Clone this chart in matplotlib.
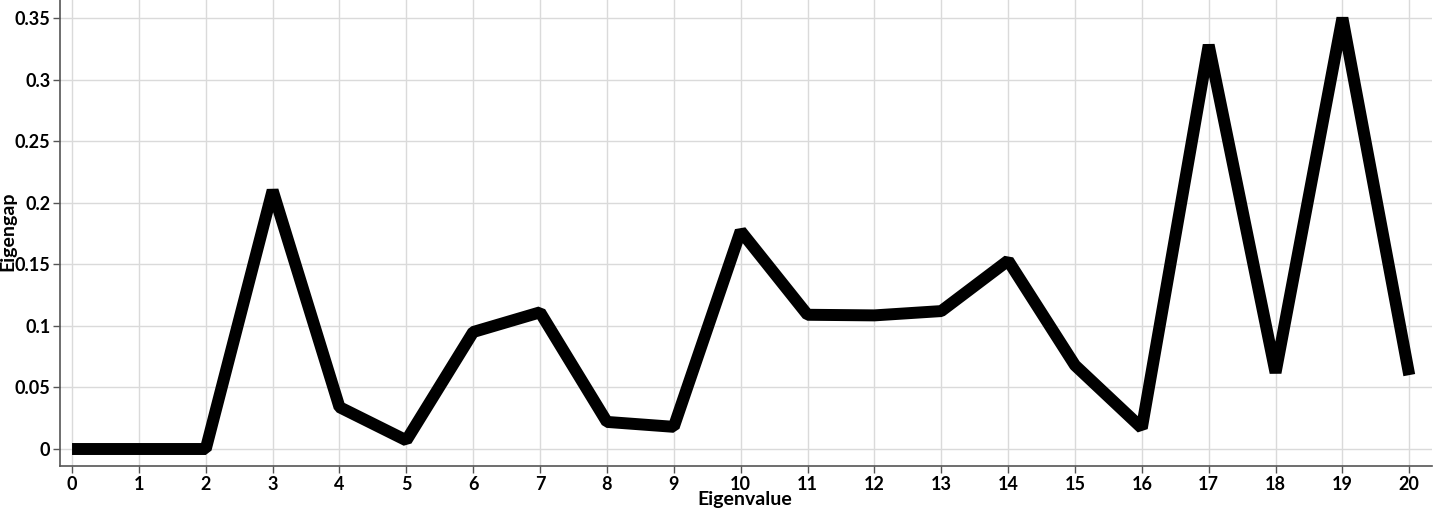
import matplotlib
matplotlib.use('Agg')
import matplotlib.pyplot as plt
from matplotlib.ticker import FuncFormatter

# data
eigenvalue = list(range(21))
eigengap = [0.0, 0.0, 0.0, 0.210, 0.034, 0.007, 0.095, 0.111, 0.022, 0.018,
            0.177, 0.109, 0.1085, 0.112, 0.153, 0.068, 0.017, 0.328, 0.062,
            0.350, 0.060]
x_ticks = list(range(21))
y_ticks = [0, 0.05, 0.1, 0.15, 0.2, 0.25, 0.3, 0.35]

plt.rcParams['font.family'] = ['Lato', 'DejaVu Sans']

W, H = 1433, 508
fig = plt.figure(figsize=(W / 100, H / 100), dpi=100)
ax = fig.add_axes([60 / W, 42 / H, 1372 / W, 466 / H])

ax.plot(eigenvalue, eigengap, color='black', linewidth=8.6,
        solid_joinstyle='bevel', solid_capstyle='butt', zorder=3)

ax.set_xlim(-0.18, 20.34)
ax.set_ylim(-0.0138, 0.3646)
ax.set_xticks(x_ticks)
ax.set_yticks(y_ticks)
ax.yaxis.set_major_formatter(FuncFormatter(lambda v, p: f'{v:g}'))

ax.grid(True, color='#dadada', linewidth=1.0)
ax.set_axisbelow(True)

for side in ['top', 'right']:
    ax.spines[side].set_visible(False)
for side in ['left', 'bottom']:
    ax.spines[side].set_color('#555555')
    ax.spines[side].set_linewidth(1.2)

ax.tick_params(axis='both', colors='#555555', length=5, width=1,
               labelsize=13, labelcolor='black', pad=2)
for lbl in ax.get_xticklabels() + ax.get_yticklabels():
    lbl.set_fontweight('bold')

# axis titles placed by pixel position to match the reference
fig.text(745 / W, 1 - 499 / H, 'Eigenvalue', fontsize=14, fontweight='bold',
         ha='center', va='center')
fig.text(8 / W, 1 - 231 / H, 'Eigengap', fontsize=14, fontweight='bold',
         ha='center', va='center', rotation=90)

fig.savefig('out.png', dpi=100)
